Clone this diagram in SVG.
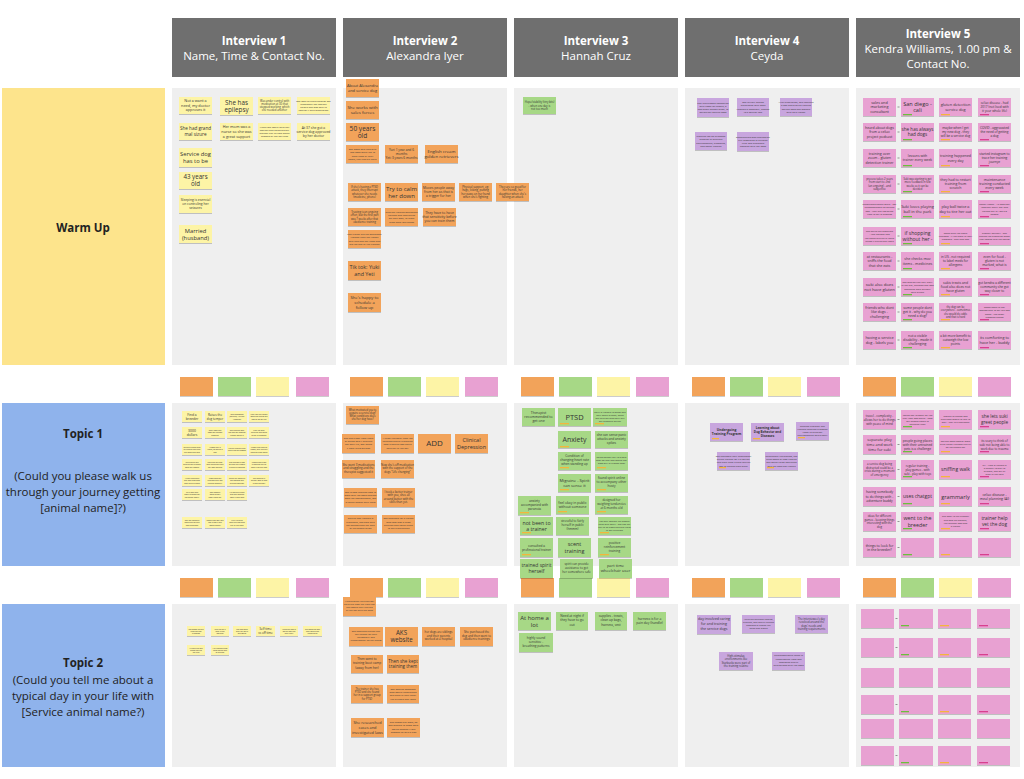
<svg xmlns="http://www.w3.org/2000/svg" width="1024" height="779" viewBox="0 0 1024 779">
<defs>
<filter id="sh" x="-10%" y="-10%" width="120%" height="140%"><feDropShadow dx="0" dy="0.8" stdDeviation="0.6" flood-color="#000" flood-opacity="0.25"/></filter>
<style>
text{font-family:"Open Sans","Liberation Sans",sans-serif;fill:#333;text-anchor:middle}
.hd{fill:#6f6f6f}
.ht{fill:#fff;font-size:11.5px}
.pn{fill:#efefef}
.rl{font-size:11.5px;fill:#222}
.Y{fill:#fdf4a6;filter:url(#sh)}
.O{fill:#f2a35a;filter:url(#sh)}
.G{fill:#a7d886;filter:url(#sh)}
.P{fill:#e8a1d2;filter:url(#sh)}
.V{fill:#c8a6de;filter:url(#sh)}
.tg{fill:#6cbf3d}.to{fill:#f3b53d}.tm{fill:#d8408f}
.dash{stroke:#555;stroke-width:0.6}
</style>
</defs>
<rect width="1024" height="779" fill="#fff"/>

<!-- headers -->
<g id="h1"><rect class="hd" x="172" y="18" width="164" height="59"/><text class="ht" x="254" y="45"><tspan font-weight="bold">Interview 1</tspan><tspan x="254" dy="15">Name, Time &amp; Contact No.</tspan></text></g>
<g id="h2"><rect class="hd" x="343" y="18" width="164" height="59"/><text class="ht" x="425" y="45"><tspan font-weight="bold">Interview 2</tspan><tspan x="425" dy="15">Alexandra Iyer</tspan></text></g>
<g id="h3"><rect class="hd" x="514" y="18" width="164" height="59"/><text class="ht" x="596" y="45"><tspan font-weight="bold">Interview 3</tspan><tspan x="596" dy="15">Hannah Cruz</tspan></text></g>
<g id="h4"><rect class="hd" x="685" y="18" width="164" height="59"/><text class="ht" x="767" y="45"><tspan font-weight="bold">Interview 4</tspan><tspan x="767" dy="15">Ceyda</tspan></text></g>
<g id="h5"><rect class="hd" x="856" y="18" width="164" height="59"/><text class="ht" x="938" y="38"><tspan font-weight="bold">Interview 5</tspan><tspan x="938" dy="15">Kendra Williams, 1.00 pm &amp;</tspan><tspan x="938" dy="15">Contact No.</tspan></text></g>

<!-- row labels -->
<g id="r-warmup"><rect x="2" y="88" width="163" height="277" fill="#fde48c"/><text class="rl" x="83" y="232" font-weight="bold" font-size="12.5">Warm Up</text></g>
<g id="r-topic1"><rect x="2" y="403" width="163" height="163" fill="#8fb3ec"/><text class="rl" x="83" y="438"><tspan font-weight="bold">Topic 1</tspan><tspan x="83" dy="42">(Could you please walk us</tspan><tspan x="83" dy="16">through your journey getting</tspan><tspan x="83" dy="16">[animal name]?)</tspan></text></g>
<g id="r-topic2"><rect x="2" y="604" width="163" height="163" fill="#8fb3ec"/><text class="rl" x="83" y="667"><tspan font-weight="bold">Topic 2</tspan><tspan x="83" dy="17">(Could you tell me about a</tspan><tspan x="83" dy="16">typical day in your life with</tspan><tspan x="83" dy="16">[Service animal name?)</tspan></text></g>

<!-- panels -->
<g id="panels">
<rect class="pn" x="172" y="88" width="164" height="277"/><rect class="pn" x="343" y="88" width="164" height="277"/><rect class="pn" x="514" y="88" width="164" height="277"/><rect class="pn" x="685" y="88" width="164" height="277"/><rect class="pn" x="856" y="88" width="164" height="277"/>
<rect class="pn" x="172" y="403" width="164" height="163"/><rect class="pn" x="343" y="403" width="164" height="163"/><rect class="pn" x="514" y="403" width="164" height="163"/><rect class="pn" x="685" y="403" width="164" height="163"/><rect class="pn" x="856" y="403" width="164" height="163"/>
<rect class="pn" x="172" y="604" width="164" height="163"/><rect class="pn" x="343" y="604" width="164" height="163"/><rect class="pn" x="514" y="604" width="164" height="163"/><rect class="pn" x="685" y="604" width="164" height="163"/><rect class="pn" x="856" y="604" width="164" height="163"/>
</g>

<!-- swatches -->
<g id="swatches1">
<rect class="O" x="180" y="377" width="33" height="19"/><rect class="G" x="218" y="377" width="33" height="19"/><rect class="Y" x="256" y="377" width="33" height="19"/><rect class="P" x="296" y="377" width="33" height="19"/>
<rect class="O" x="350" y="377" width="33" height="19"/><rect class="G" x="388" y="377" width="33" height="19"/><rect class="Y" x="426" y="377" width="33" height="19"/><rect class="P" x="465" y="377" width="33" height="19"/>
<rect class="O" x="521" y="377" width="33" height="19"/><rect class="G" x="559" y="377" width="33" height="19"/><rect class="Y" x="597" y="377" width="33" height="19"/><rect class="P" x="636" y="377" width="33" height="19"/>
<rect class="O" x="692" y="377" width="33" height="19"/><rect class="G" x="730" y="377" width="33" height="19"/><rect class="Y" x="768" y="377" width="33" height="19"/><rect class="P" x="807" y="377" width="33" height="19"/>
<rect class="O" x="863" y="377" width="33" height="19"/><rect class="G" x="901" y="377" width="33" height="19"/><rect class="Y" x="939" y="377" width="33" height="19"/><rect class="P" x="978" y="377" width="33" height="19"/>
</g>
<g id="swatches2">
<rect class="O" x="180" y="578" width="33" height="19"/><rect class="G" x="218" y="578" width="33" height="19"/><rect class="Y" x="256" y="578" width="33" height="19"/><rect class="P" x="296" y="578" width="33" height="19"/>
<rect class="O" x="350" y="578" width="33" height="19"/><rect class="G" x="388" y="578" width="33" height="19"/><rect class="Y" x="426" y="578" width="33" height="19"/><rect class="P" x="465" y="578" width="33" height="19"/>
<rect class="O" x="521" y="578" width="33" height="19"/><rect class="G" x="559" y="578" width="33" height="19"/><rect class="Y" x="597" y="578" width="33" height="19"/><rect class="P" x="636" y="578" width="33" height="19"/>
<rect class="O" x="692" y="578" width="33" height="19"/><rect class="G" x="730" y="578" width="33" height="19"/><rect class="Y" x="768" y="578" width="33" height="19"/><rect class="P" x="807" y="578" width="33" height="19"/>
<rect class="O" x="863" y="578" width="33" height="19"/><rect class="G" x="901" y="578" width="33" height="19"/><rect class="Y" x="939" y="578" width="33" height="19"/><rect class="P" x="978" y="578" width="33" height="19"/>
</g>

<!-- Interview 1 Warm Up -->
<g id="i1w1"><rect class="Y" x="179" y="97" width="33" height="17"/><text font-size="3.8" x="195.5" y="102.3">Not a want a<tspan x="195.5" dy="4.5">need, my doctor</tspan><tspan x="195.5" dy="4.5">approves it</tspan></text></g>
<g id="i1w2"><rect class="Y" x="220" y="97" width="33" height="18"/><text font-size="6.3" x="236.5" y="104.8">She has<tspan x="236.5" dy="7.3">epilepsy</tspan></text></g>
<g id="i1w3"><rect class="Y" x="258" y="97" width="33" height="17"/><text font-size="2.7" x="274.5" y="101.5">Was under control with<tspan x="274.5" dy="3.3">medication at 30 that</tspan><tspan x="274.5" dy="3.3">stopped working, which</tspan><tspan x="274.5" dy="3.3">she needed another</tspan></text></g>
<g id="i1w4"><rect class="Y" x="297" y="97" width="33" height="17"/><text font-size="2.5" x="313.5" y="101.5">She was terrified because she<tspan x="313.5" dy="3.2">remember her mother</tspan><tspan x="313.5" dy="3.2">before she was able to</tspan><tspan x="313.5" dy="3.2">control it with medication</tspan></text></g>
<g id="i1w5"><rect class="Y" x="179" y="123" width="33" height="17"/><text font-size="4.6" x="195.5" y="130.2">She had grand<tspan x="195.5" dy="5.6">mal sizure</tspan></text></g>
<g id="i1w6"><rect class="Y" x="220" y="123" width="33" height="17"/><text font-size="3.8" x="236.5" y="128.1">Her mom was a<tspan x="236.5" dy="4.7">nurse so she was</tspan><tspan x="236.5" dy="4.7">a great support</tspan></text></g>
<g id="i1w7"><rect class="Y" x="258" y="123" width="33" height="17"/><text font-size="2.5" x="274.5" y="127.5">When she was a child her<tspan x="274.5" dy="3.2">mother and gathered out</tspan><tspan x="274.5" dy="3.2">prevent her thyroid which</tspan><tspan x="274.5" dy="3.2">allowed all her seizures</tspan></text></g>
<g id="i1w8"><rect class="Y" x="297" y="123" width="33" height="17"/><text font-size="3.4" x="313.5" y="128.5">At 37 she got a<tspan x="313.5" dy="4.2">service dog approved</tspan><tspan x="313.5" dy="4.2">by her doctor</tspan></text></g>
<g id="i1w9"><rect class="Y" x="179" y="148" width="33" height="19"/><text font-size="5.8" x="195.5" y="156">Service dog<tspan x="195.5" dy="7">has to be</tspan></text></g>
<g id="i1w10"><rect class="Y" x="179" y="172" width="33" height="17"/><text font-size="6.2" x="195.5" y="179">43 years<tspan x="195.5" dy="7.3">old</tspan></text></g>
<g id="i1w11"><rect class="Y" x="179" y="195" width="33" height="18"/><text font-size="3.3" x="195.5" y="200.8">Sleeping is esencial<tspan x="195.5" dy="4.2">on controling her</tspan><tspan x="195.5" dy="4.2">seizures</tspan></text></g>
<g id="i1w12"><rect class="Y" x="179" y="225" width="33" height="18"/><text font-size="5.8" x="195.5" y="232.5">Married<tspan x="195.5" dy="7.2">(husband)</tspan></text></g>

<!-- Interview 2 Warm Up -->
<g id="i2w1"><rect class="O" x="346" y="79" width="33" height="18"/><text font-size="4" x="362.5" y="87">About Alexandra<tspan x="362.5" dy="5">and service dog</tspan></text></g>
<g id="i2w2"><rect class="O" x="346" y="101" width="33" height="18"/><text font-size="4.3" x="362.5" y="109">She works with<tspan x="362.5" dy="5.2">sales forces</tspan></text></g>
<g id="i2w3"><rect class="O" x="346" y="123" width="33" height="18"/><text font-size="6.6" x="362.5" y="130.5">50 years<tspan x="362.5" dy="7.8">old</tspan></text></g>
<g id="i2w4"><rect class="O" x="346" y="145" width="33" height="18"/><text font-size="2.5" x="362.5" y="150.3">She owns and lives with<tspan x="362.5" dy="3.1">two dogs she'd like to</tspan><tspan x="362.5" dy="3.1">have them at their</tspan><tspan x="362.5" dy="3.1">home, they can be there</tspan></text></g>
<g id="i2w5"><rect class="O" x="385" y="145" width="33" height="18"/><text font-size="3.2" x="401.5" y="151">Yuri 1 year and 6<tspan x="401.5" dy="4">months</tspan><tspan x="401.5" dy="4">Yeti 3 years 6 months</tspan></text></g>
<g id="i2w6"><rect class="O" x="425" y="145" width="33" height="18"/><text font-size="4.3" x="441.5" y="153">English cream<tspan x="441.5" dy="5.2">golden retrievers</tspan></text></g>
<g id="i2w7"><rect class="O" x="348" y="183" width="33" height="18"/><text font-size="2.7" x="364.5" y="187.9">If she's having a PTSD<tspan x="364.5" dy="3.4">attack, they interrupt</tspan><tspan x="364.5" dy="3.4">whatever she needs</tspan><tspan x="364.5" dy="3.4">(medicine, phone)</tspan></text></g>
<g id="i2w8"><rect class="O" x="385" y="183" width="33" height="18"/><text font-size="6" x="401.5" y="190.6">Try to calm<tspan x="401.5" dy="7">her down</tspan></text></g>
<g id="i2w9"><rect class="O" x="422" y="183" width="33" height="18"/><text font-size="3.4" x="438.5" y="189">Moves people away<tspan x="438.5" dy="4.2">from her as that is</tspan><tspan x="438.5" dy="4.2">a trigger for her</tspan></text></g>
<g id="i2w10"><rect class="O" x="459" y="183" width="33" height="18"/><text font-size="2.8" x="475.5" y="187.8">Physical support, eg:<tspan x="475.5" dy="3.5">hugs, licking, putting</tspan><tspan x="475.5" dy="3.5">her paws on her hand</tspan><tspan x="475.5" dy="3.5">when she's fighting</tspan></text></g>
<g id="i2w11"><rect class="O" x="496" y="183" width="33" height="18"/><text font-size="2.8" x="512.5" y="187.8">They are so good for<tspan x="512.5" dy="3.5">her friends, her</tspan><tspan x="512.5" dy="3.5">daughter when she's</tspan><tspan x="512.5" dy="3.5">having an attack</tspan></text></g>
<g id="i2w12"><rect class="O" x="348" y="208" width="33" height="18"/><text font-size="2.6" x="364.5" y="213">Trusting is an ongoing<tspan x="364.5" dy="3.3">effort, but the first part</tspan><tspan x="364.5" dy="3.3">was 7 weeks after that</tspan><tspan x="364.5" dy="3.3">obedience training</tspan></text></g>
<g id="i2w13"><rect class="O" x="385" y="208" width="33" height="18"/><text font-size="2.5" x="401.5" y="213">Trusting training/obedience<tspan x="401.5" dy="3.2">training and continuing</tspan><tspan x="401.5" dy="3.2">on their own, to teach</tspan><tspan x="401.5" dy="3.2">them what she needs</tspan></text></g>
<g id="i2w14"><rect class="O" x="423" y="208" width="33" height="18"/><text font-size="3.4" x="439.5" y="214">They have to have<tspan x="439.5" dy="4.2">that sensitivity before</tspan><tspan x="439.5" dy="4.2">you can train them</tspan></text></g>
<g id="i2w15"><rect class="O" x="348" y="230" width="33" height="18"/><text font-size="2.5" x="364.5" y="235.3">The trainer did the obedience<tspan x="364.5" dy="3.1">training then the trainer</tspan><tspan x="364.5" dy="3.1">and then she got them and</tspan><tspan x="364.5" dy="3.1">did the rest of the training</tspan></text></g>
<g id="i2w16"><rect class="O" x="348" y="261" width="33" height="19"/><text font-size="5.4" x="364.5" y="269">Tik tok: Yuki<tspan x="364.5" dy="6.8">and Yeti</tspan></text></g>
<g id="i2w17"><rect class="O" x="348" y="293" width="33" height="19"/><text font-size="4.1" x="364.5" y="299">She's happy to<tspan x="364.5" dy="5">schedule a</tspan><tspan x="364.5" dy="5">follow up</tspan></text></g>

<!-- Interview 3 Warm Up -->
<g id="i3w1"><rect class="G" x="523" y="97" width="33" height="17"/><text font-size="2.7" x="539.5" y="103.2">Hope/stability (tiny bits)<tspan x="539.5" dy="3.3">- when one day is</tspan><tspan x="539.5" dy="3.3">not too much</tspan></text></g>

<!-- Interview 4 Warm Up -->
<g id="i4w1"><rect class="V" x="697" y="98" width="32" height="19"/><text font-size="2.5" x="713" y="103.8">The interviewee connected<tspan x="713" dy="3.1">with Paws for People, a</tspan><tspan x="713" dy="3.1">non-profit organization, to</tspan><tspan x="713" dy="3.1">obtain her service dogs</tspan></text></g>
<g id="i4w2"><rect class="V" x="737" y="98" width="32" height="18"/><text font-size="2.5" x="753" y="103.3">She initially gained<tspan x="753" dy="3.1">experience with dogs</tspan><tspan x="753" dy="3.1">through a nonprofit, leading</tspan><tspan x="753" dy="3.1">to a service role</tspan></text></g>
<g id="i4w3"><rect class="V" x="780" y="98" width="32" height="18"/><text font-size="2.5" x="796" y="103.3">After graduation, she received<tspan x="796" dy="3.1">a dog and started training</tspan><tspan x="796" dy="3.1">service dogs she worked</tspan><tspan x="796" dy="3.1">with as a trainer</tspan></text></g>
<g id="i4w4"><rect class="V" x="695" y="132" width="32" height="18"/><text font-size="2.5" x="711" y="137.3">Training ran on exposing<tspan x="711" dy="3.1">puppies to different</tspan><tspan x="711" dy="3.1">environments, grooming,</tspan><tspan x="711" dy="3.1">and social training</tspan></text></g>
<g id="i4w5"><rect class="V" x="737" y="132" width="32" height="19"/><text font-size="2.5" x="753" y="137.8">Encountered was challenging<tspan x="753" dy="3.1">but rewarding in building</tspan><tspan x="753" dy="3.1">trust and sustained</tspan><tspan x="753" dy="3.1">bonding with the dogs</tspan></text></g>

<!-- Interview 5 Warm Up -->
<g id="i5w1"><rect class="P" x="863" y="98" width="33" height="18"/><text font-size="3.8" x="879.5" y="103.8">sales and<tspan x="879.5" dy="4.6">marketing</tspan><tspan x="879.5" dy="4.6">consultant</tspan></text></g>
<g id="i5w2"><rect class="P" x="901" y="98" width="33" height="18"/><text font-size="5.6" x="917.5" y="105.6">San diego -<tspan x="917.5" dy="6.8">cali</tspan></text></g>
<g id="i5w3"><rect class="P" x="939" y="98" width="33" height="18"/><text font-size="3.9" x="955.5" y="106">gluten detection<tspan x="955.5" dy="5">service dog</tspan></text></g>
<g id="i5w4"><rect class="P" x="978" y="98" width="33" height="18"/><text font-size="3.1" x="994.5" y="104.3">celiac disease - had<tspan x="994.5" dy="3.8">2017 (not lived with</tspan><tspan x="994.5" dy="3.8">it your whole life)</tspan></text></g>
<g id="i5w5"><rect class="P" x="863" y="123" width="33" height="18"/><text font-size="3.5" x="879.5" y="128.7">heard about dogs<tspan x="879.5" dy="4.5">from a celiac</tspan><tspan x="879.5" dy="4.5">project podcast</tspan></text></g>
<g id="i5w6"><rect class="P" x="901" y="123" width="33" height="18"/><text font-size="4.6" x="917.5" y="130.8">she has always<tspan x="917.5" dy="5.6">had dogs</tspan></text></g>
<g id="i5w7"><rect class="P" x="939" y="123" width="33" height="18"/><text font-size="3.2" x="955.5" y="128.9">maybe when I get<tspan x="955.5" dy="4.1">my new dog - they</tspan><tspan x="955.5" dy="4.1">will be a service dog</tspan></text></g>
<g id="i5w8"><rect class="P" x="978" y="123" width="33" height="18"/><text font-size="3.2" x="994.5" y="128.9">COVID - aggravated<tspan x="994.5" dy="4.1">the need of getting</tspan><tspan x="994.5" dy="4.1">a dog</tspan></text></g>
<g id="i5w9"><rect class="P" x="863" y="149" width="33" height="18"/><text font-size="3.6" x="879.5" y="154.7">training over<tspan x="879.5" dy="4.5">zoom - gluten</tspan><tspan x="879.5" dy="4.5">detection trainer</tspan></text></g>
<g id="i5w10"><rect class="P" x="901" y="149" width="33" height="18"/><text font-size="3.4" x="917.5" y="157">lessons with<tspan x="917.5" dy="4.3">trainer every week</tspan></text></g>
<g id="i5w11"><rect class="P" x="939" y="149" width="33" height="18"/><text font-size="3.6" x="955.5" y="157">training happened<tspan x="955.5" dy="4.5">every day</tspan></text></g>
<g id="i5w12"><rect class="P" x="978" y="149" width="33" height="18"/><text font-size="3.2" x="994.5" y="155">started instagram to<tspan x="994.5" dy="4">trace her training</tspan><tspan x="994.5" dy="4">journye</tspan></text></g>
<g id="i5w13"><rect class="P" x="863" y="175" width="33" height="18"/><text font-size="2.7" x="879.5" y="179.8">process takes 2 years<tspan x="879.5" dy="3.4">from start to end</tspan><tspan x="879.5" dy="3.4">(an ongoing) - and</tspan><tspan x="879.5" dy="3.4">subjective</tspan></text></g>
<g id="i5w14"><rect class="P" x="901" y="175" width="33" height="18"/><text font-size="2.6" x="917.5" y="179.8">Suki was starting to get<tspan x="917.5" dy="3.4">more feedback in few</tspan><tspan x="917.5" dy="3.4">weeks so it can be</tspan><tspan x="917.5" dy="3.4">decided</tspan></text></g>
<g id="i5w15"><rect class="P" x="939" y="175" width="33" height="18"/><text font-size="3.5" x="955.5" y="180.8">they had to restart<tspan x="955.5" dy="4.3">training from</tspan><tspan x="955.5" dy="4.3">scratch</tspan></text></g>
<g id="i5w16"><rect class="P" x="978" y="175" width="33" height="18"/><text font-size="3.5" x="994.5" y="180.8">maintenance<tspan x="994.5" dy="4.3">training conducted</tspan><tspan x="994.5" dy="4.3">every week</tspan></text></g>
<g id="i5w17"><rect class="P" x="863" y="200" width="33" height="18"/><text font-size="2.5" x="879.5" y="204.8">encouraged when she'd - not<tspan x="879.5" dy="3.4">recommended for service</tspan><tspan x="879.5" dy="3.4">dog - they are too much</tspan><tspan x="879.5" dy="3.4">time to get in process</tspan></text></g>
<g id="i5w18"><rect class="P" x="901" y="200" width="33" height="18"/><text font-size="4" x="917.5" y="208">Suki loves playing<tspan x="917.5" dy="5">ball in the park</tspan></text></g>
<g id="i5w19"><rect class="P" x="939" y="200" width="33" height="18"/><text font-size="3.8" x="955.5" y="208">play ball twice a<tspan x="955.5" dy="4.8">day to tire her out</tspan></text></g>
<g id="i5w20"><rect class="P" x="978" y="200" width="33" height="18"/><text font-size="2.5" x="994.5" y="204.8">happy fresh? - 16 dogs got<tspan x="994.5" dy="3.4">together every day and</tspan><tspan x="994.5" dy="3.4">trained pet in 180-6-8</tspan><tspan x="994.5" dy="3.4">people</tspan></text></g>
<g id="i5w21"><rect class="P" x="863" y="227" width="33" height="18"/><text font-size="2.5" x="879.5" y="231.8">she sniffs the groceries<tspan x="879.5" dy="3.4">- that nobody has</tspan><tspan x="879.5" dy="3.4">the paper/gluten in there</tspan><tspan x="879.5" dy="3.4">things if gluten are there</tspan></text></g>
<g id="i5w22"><rect class="P" x="901" y="227" width="33" height="18"/><text font-size="5" x="917.5" y="234.7">if shopping<tspan x="917.5" dy="6">without her -</tspan></text></g>
<g id="i5w23"><rect class="P" x="939" y="227" width="33" height="18"/><text font-size="2.5" x="955.5" y="233.6">make sure the dog's<tspan x="955.5" dy="3.4">freedom - if the store is tasty</tspan><tspan x="955.5" dy="3.4">crowded - and take dog</tspan></text></g>
<g id="i5w24"><rect class="P" x="978" y="227" width="33" height="18"/><text font-size="2.5" x="994.5" y="233.6">grocery delivery - she<tspan x="994.5" dy="3.4">checks the groceries when</tspan><tspan x="994.5" dy="3.4">that comes into the house</tspan></text></g>
<g id="i5w25"><rect class="P" x="863" y="252" width="33" height="18"/><text font-size="3.6" x="879.5" y="257.7">at restaurants -<tspan x="879.5" dy="4.5">sniffs the food</tspan><tspan x="879.5" dy="4.5">that she eats</tspan></text></g>
<g id="i5w26"><rect class="P" x="901" y="252" width="33" height="18"/><text font-size="3.6" x="917.5" y="260">she checks mov<tspan x="917.5" dy="4.5">items - medicines</tspan></text></g>
<g id="i5w27"><rect class="P" x="939" y="252" width="33" height="18"/><text font-size="3.2" x="955.5" y="258">in US - not required<tspan x="955.5" dy="4.1">to label meds for</tspan><tspan x="955.5" dy="4.1">allergens</tspan></text></g>
<g id="i5w28"><rect class="P" x="978" y="252" width="33" height="18"/><text font-size="3.3" x="994.5" y="258">even for food -<tspan x="994.5" dy="4.1">gluten is not</tspan><tspan x="994.5" dy="4.1">marked, what is</tspan></text></g>
<g id="i5w29"><rect class="P" x="863" y="278" width="33" height="18"/><text font-size="4.2" x="879.5" y="286">suki also does<tspan x="879.5" dy="5.3">not have gluten</tspan></text></g>
<g id="i5w30"><rect class="P" x="901" y="278" width="33" height="18"/><text font-size="2.5" x="917.5" y="282.8">she was getting very early<tspan x="917.5" dy="3.4">in the day, because she was</tspan><tspan x="917.5" dy="3.4">spending days without</tspan><tspan x="917.5" dy="3.4">with gluten</tspan></text></g>
<g id="i5w31"><rect class="P" x="939" y="278" width="33" height="18"/><text font-size="3.4" x="955.5" y="284">sukis treats and<tspan x="955.5" dy="4.2">food also does not</tspan><tspan x="955.5" dy="4.2">have gluten</tspan></text></g>
<g id="i5w32"><rect class="P" x="978" y="278" width="33" height="18"/><text font-size="3.2" x="994.5" y="284">got kendra a different<tspan x="994.5" dy="4">community she got</tspan><tspan x="994.5" dy="4">way closer to</tspan></text></g>
<g id="i5w33"><rect class="P" x="863" y="303" width="33" height="18"/><text font-size="3.6" x="879.5" y="308.7">friends who dont<tspan x="879.5" dy="4.5">like dogs -</tspan><tspan x="879.5" dy="4.5">challenging</tspan></text></g>
<g id="i5w34"><rect class="P" x="901" y="303" width="33" height="18"/><text font-size="3.4" x="917.5" y="308.8">some people dont<tspan x="917.5" dy="4.3">get it - why do you</tspan><tspan x="917.5" dy="4.3">need a dog?</tspan></text></g>
<g id="i5w35"><rect class="P" x="939" y="303" width="33" height="18"/><text font-size="2.6" x="955.5" y="307.9">the dog can be<tspan x="955.5" dy="3.4">everywhere - sometimes</tspan><tspan x="955.5" dy="3.4">she would do odds</tspan><tspan x="955.5" dy="3.4">and that is hard</tspan></text></g>
<g id="i5w36"><rect class="P" x="978" y="303" width="33" height="18"/><text font-size="2.5" x="994.5" y="307.9">sometimes its not<tspan x="994.5" dy="3.4">appropriate to get the dog</tspan><tspan x="994.5" dy="3.4">along - like most</tspan><tspan x="994.5" dy="3.4">crowded places</tspan></text></g>
<g id="i5w37"><rect class="P" x="863" y="331" width="33" height="18"/><text font-size="3.8" x="879.5" y="339">having a service<tspan x="879.5" dy="4.8">dog - labels you</tspan></text></g>
<g id="i5w38"><rect class="P" x="901" y="331" width="33" height="18"/><text font-size="3.4" x="917.5" y="337">not a visible<tspan x="917.5" dy="4.2">disability - made it</tspan><tspan x="917.5" dy="4.2">challenging</tspan></text></g>
<g id="i5w39"><rect class="P" x="939" y="331" width="33" height="18"/><text font-size="3.2" x="955.5" y="337">a bit more benefit to<tspan x="955.5" dy="4.1">outweigh the low</tspan><tspan x="955.5" dy="4.1">points</tspan></text></g>
<g id="i5w40"><rect class="P" x="978" y="331" width="33" height="18"/><text font-size="3.8" x="994.5" y="339">its comforting to<tspan x="994.5" dy="4.8">have her - buddy</tspan></text></g>
<g id="i5w-tags">
<rect class="tg" x="903" y="114" width="9" height="1.3"/><rect class="to" x="941" y="114" width="9" height="1.3"/><rect class="tm" x="980" y="114" width="9" height="1.3"/>
<rect class="tg" x="903" y="139" width="9" height="1.3"/><rect class="to" x="941" y="139" width="9" height="1.3"/><rect class="tm" x="980" y="139" width="9" height="1.3"/>
<rect class="tg" x="903" y="165" width="9" height="1.3"/><rect class="to" x="941" y="165" width="9" height="1.3"/><rect class="tm" x="980" y="165" width="9" height="1.3"/>
<rect class="tg" x="903" y="191" width="9" height="1.3"/><rect class="to" x="941" y="191" width="9" height="1.3"/><rect class="tm" x="980" y="191" width="9" height="1.3"/>
<rect class="tg" x="903" y="216" width="9" height="1.3"/><rect class="to" x="941" y="216" width="9" height="1.3"/><rect class="tm" x="980" y="216" width="9" height="1.3"/>
<rect class="tg" x="903" y="243" width="9" height="1.3"/><rect class="to" x="941" y="243" width="9" height="1.3"/><rect class="tm" x="980" y="243" width="9" height="1.3"/>
<rect class="tg" x="903" y="268" width="9" height="1.3"/><rect class="to" x="941" y="268" width="9" height="1.3"/><rect class="tm" x="980" y="268" width="9" height="1.3"/>
<rect class="tg" x="903" y="294" width="9" height="1.3"/><rect class="to" x="941" y="294" width="9" height="1.3"/><rect class="tm" x="980" y="294" width="9" height="1.3"/>
<rect class="tg" x="903" y="319" width="9" height="1.3"/><rect class="to" x="941" y="319" width="9" height="1.3"/><rect class="tm" x="980" y="319" width="9" height="1.3"/>
<rect class="tg" x="903" y="347" width="9" height="1.3"/><rect class="to" x="941" y="347" width="9" height="1.3"/><rect class="tm" x="980" y="347" width="9" height="1.3"/>
</g>

<!-- Interview 1 Topic 1 -->
<g id="i1t1"><rect class="Y" x="182" y="411" width="20" height="11"/><text font-size="3.4" x="192" y="415.5">Find a<tspan x="192" dy="4">breeder</tspan></text></g>
<g id="i1t2"><rect class="Y" x="205" y="411" width="20" height="11"/><text font-size="3" x="215" y="415.5">Raises the<tspan x="215" dy="4">dog temper</tspan></text></g>
<g id="i1t3"><rect class="Y" x="227" y="411" width="20" height="11"/><text font-size="2" x="237" y="414.7">She contacted<tspan x="237" dy="2.4">(Service) Anxiety</tspan><tspan x="237" dy="2.4">Academy</tspan></text></g>
<g id="i1t4"><rect class="Y" x="249" y="411" width="20" height="11"/><text font-size="1.9" x="259" y="414.7">They ask her about<tspan x="259" dy="2.4">what she needs the</tspan><tspan x="259" dy="2.4">dog to do for her</tspan></text></g>
<g id="i1t5"><rect class="Y" x="182" y="427" width="20" height="11"/><text font-size="3.4" x="192" y="431.5">3000<tspan x="192" dy="4">dollars</tspan></text></g>
<g id="i1t6"><rect class="Y" x="205" y="427" width="20" height="11"/><text font-size="2" x="215" y="430.7">They take the<tspan x="215" dy="2.4">dogs for certain</tspan><tspan x="215" dy="2.4">amount</tspan></text></g>
<g id="i1t7"><rect class="Y" x="227" y="427" width="20" height="11"/><text font-size="1.9" x="237" y="430.7">She trained with<tspan x="237" dy="2.4">the dog for months</tspan><tspan x="237" dy="2.4">before taking it</tspan></text></g>
<g id="i1t8"><rect class="Y" x="249" y="427" width="20" height="11"/><text font-size="1.9" x="259" y="430.7">They go over<tspan x="259" dy="2.4">seizures and what</tspan><tspan x="259" dy="2.4">to do in between</tspan></text></g>
<g id="i1t9"><rect class="Y" x="182" y="444" width="20" height="11"/><text font-size="1.9" x="192" y="447.7">Service breeds that<tspan x="192" dy="2.4">are bigger can help</tspan><tspan x="192" dy="2.4">her when she falls</tspan></text></g>
<g id="i1t10"><rect class="Y" x="205" y="444" width="20" height="11"/><text font-size="2" x="215" y="447.7">It took her 2<tspan x="215" dy="2.4">years, to figure it</tspan><tspan x="215" dy="2.4">out</tspan></text></g>
<g id="i1t11"><rect class="Y" x="227" y="444" width="20" height="11"/><text font-size="2" x="237" y="448.5">Which breed? They<tspan x="237" dy="2.4">had a lot to choose</tspan></text></g>
<g id="i1t12"><rect class="Y" x="249" y="444" width="20" height="11"/><text font-size="1.9" x="259" y="447.7">It took him time to<tspan x="259" dy="2.4">adapt, they are still</tspan><tspan x="259" dy="2.4">learning each other</tspan></text></g>
<g id="i1t13"><rect class="Y" x="182" y="459" width="20" height="11"/><text font-size="1.9" x="192" y="462.7">The part of the<tspan x="192" dy="2.4">training the breeder</tspan><tspan x="192" dy="2.4">does per month</tspan></text></g>
<g id="i1t14"><rect class="Y" x="205" y="459" width="20" height="11"/><text font-size="1.9" x="215" y="462.7">She paid the dog<tspan x="215" dy="2.4">with insurance and</tspan><tspan x="215" dy="2.4">her own savings</tspan></text></g>
<g id="i1t15"><rect class="Y" x="227" y="459" width="20" height="11"/><text font-size="1.9" x="237" y="462.7">She needed a dog<tspan x="237" dy="2.4">to alert her before</tspan><tspan x="237" dy="2.4">a seizure happens</tspan></text></g>
<g id="i1t16"><rect class="Y" x="249" y="459" width="20" height="11"/><text font-size="1.9" x="259" y="462.7">People were not<tspan x="259" dy="2.4">expecting her to</tspan><tspan x="259" dy="2.4">have a service dog</tspan></text></g>
<g id="i1t17"><rect class="Y" x="182" y="475" width="20" height="11"/><text font-size="1.9" x="192" y="478.7">At the beginning<tspan x="192" dy="2.4">she had problems</tspan><tspan x="192" dy="2.4">with public places</tspan></text></g>
<g id="i1t18"><rect class="Y" x="205" y="475" width="20" height="11"/><text font-size="1.9" x="215" y="478.7">Most from the<tspan x="215" dy="2.4">breeders are not</tspan><tspan x="215" dy="2.4">trained properly</tspan></text></g>
<g id="i1t19"><rect class="Y" x="227" y="475" width="20" height="11"/><text font-size="1.9" x="237" y="478.7">There are some of<tspan x="237" dy="2.4">the options she</tspan><tspan x="237" dy="2.4">did not consider</tspan></text></g>
<g id="i1t20"><rect class="Y" x="249" y="475" width="20" height="11"/><text font-size="1.9" x="259" y="478.7">She went to a<tspan x="259" dy="2.4">trainer who is also</tspan><tspan x="259" dy="2.4">a dog breeder</tspan></text></g>
<g id="i1t21"><rect class="Y" x="182" y="489" width="20" height="11"/><text font-size="1.9" x="192" y="492.7">It's a long and<tspan x="192" dy="2.4">costly process for</tspan><tspan x="192" dy="2.4">the whole family</tspan></text></g>
<g id="i1t22"><rect class="Y" x="205" y="489" width="20" height="11"/><text font-size="1.9" x="215" y="492.7">Dog doesn't<tspan x="215" dy="2.4">want to stay</tspan><tspan x="215" dy="2.4">away from her</tspan></text></g>
<g id="i1t23"><rect class="Y" x="227" y="489" width="20" height="11"/><text font-size="1.9" x="237" y="492.7">He got the breed<tspan x="237" dy="2.4">that she wanted</tspan><tspan x="237" dy="2.4">after a long wait</tspan></text></g>
<g id="i1t24"><rect class="Y" x="182" y="517" width="20" height="11"/><text font-size="1.9" x="192" y="520.7">She did research<tspan x="192" dy="2.4">about the service</tspan><tspan x="192" dy="2.4">dog programs</tspan></text></g>
<g id="i1t25"><rect class="Y" x="205" y="517" width="20" height="11"/><text font-size="1.9" x="215" y="520.7">People ask why she<tspan x="215" dy="2.4">has a dog if she</tspan><tspan x="215" dy="2.4">looks healthy</tspan></text></g>
<g id="i1t26"><rect class="Y" x="227" y="517" width="20" height="11"/><text font-size="1.9" x="237" y="520.7">It's a relief to<tspan x="237" dy="2.4">have the dog with</tspan><tspan x="237" dy="2.4">her all the time</tspan></text></g>

<!-- Interview 2 Topic 1 -->
<g id="i2t1"><rect class="O" x="346" y="406" width="33" height="18"/><text font-size="2.6" x="362.5" y="410.5">What motivated you to<tspan x="362.5" dy="3.3">acquire a service dog?</tspan><tspan x="362.5" dy="3.3">What conditions does</tspan><tspan x="362.5" dy="3.3">she/her dog have?</tspan></text></g>
<g id="i2t2"><rect class="O" x="342" y="434" width="33" height="19"/><text font-size="2.5" x="358.5" y="438.8">She had PTSD from years<tspan x="358.5" dy="3.3">of abuse and it affected</tspan><tspan x="358.5" dy="3.3">her daily life, she found</tspan><tspan x="358.5" dy="3.3">it hard to go outside</tspan></text></g>
<g id="i2t3"><rect class="O" x="381" y="434" width="33" height="19"/><text font-size="2.5" x="397.5" y="438.8">A PTSD therapist from the<tspan x="397.5" dy="3.3">veterans center explained</tspan><tspan x="397.5" dy="3.3">how a service dog could</tspan><tspan x="397.5" dy="3.3">help her in the day</tspan></text></g>
<g id="i2t4"><rect class="O" x="418" y="434" width="33" height="19"/><text font-size="8" x="434.5" y="446.3">ADD</text></g>
<g id="i2t5"><rect class="O" x="455" y="434" width="33" height="19"/><text font-size="5.5" x="471.5" y="442">Clinical<tspan x="471.5" dy="6.8">Depression</tspan></text></g>
<g id="i2t6"><rect class="O" x="342" y="460" width="33" height="18"/><text font-size="2.9" x="358.5" y="465.5">She went 3 medications<tspan x="358.5" dy="3.7">and struggling and the</tspan><tspan x="358.5" dy="3.7">therapist suggested it</tspan></text></g>
<g id="i2t7"><rect class="O" x="381" y="460" width="33" height="18"/><text font-size="2.8" x="397.5" y="465.5">Now she's off medication<tspan x="397.5" dy="3.7">with the support of the</tspan><tspan x="397.5" dy="3.7">dogs "Life changing"</tspan></text></g>
<g id="i2t8"><rect class="O" x="344" y="488" width="33" height="19"/><text font-size="2.5" x="360.5" y="492.8">She is now learning how to<tspan x="360.5" dy="3.3">work with the dogs and she</tspan><tspan x="360.5" dy="3.3">sees the improvement, she</tspan><tspan x="360.5" dy="3.3">is much calmer with them</tspan></text></g>
<g id="i2t9"><rect class="O" x="382" y="488" width="33" height="19"/><text font-size="2.8" x="398.5" y="492.5">I took a better trainer<tspan x="398.5" dy="3.6">with you, shes all</tspan><tspan x="398.5" dy="3.6">around better with the</tspan><tspan x="398.5" dy="3.6">skills than yet.</tspan></text></g>
<g id="i2t10"><rect class="O" x="344" y="515" width="33" height="18"/><text font-size="2.5" x="360.5" y="519.3">Service dog training is<tspan x="360.5" dy="3.3">expensive, she paid with</tspan><tspan x="360.5" dy="3.3">her savings and the help</tspan><tspan x="360.5" dy="3.3">of the organization</tspan></text></g>
<g id="i2t11"><rect class="O" x="382" y="515" width="33" height="18"/><text font-size="2.5" x="398.5" y="519.3">She searched for a trainer<tspan x="398.5" dy="3.3">who was also a PTSD</tspan><tspan x="398.5" dy="3.3">survivor and could relate</tspan><tspan x="398.5" dy="3.3">to her experiences</tspan></text></g>

<!-- Interview 3 Topic 1 -->
<g id="i3t1"><rect class="G" x="522" y="408" width="33" height="18"/><text font-size="3.5" x="538.5" y="413.5">Therapist<tspan x="538.5" dy="4.4">recommended to</tspan><tspan x="538.5" dy="4.4">get one</tspan></text></g>
<g id="i3t2"><rect class="G" x="558" y="408" width="33" height="18"/><text font-size="7.5" x="574.5" y="419.8">PTSD</text></g>
<g id="i3t3"><rect class="G" x="593" y="408" width="34" height="18"/><text font-size="2.4" x="610" y="412.5">spirit is trained to sense and<tspan x="610" dy="3.2">alert panic attacks, when</tspan><tspan x="610" dy="3.2">she gets anxious spirit will</tspan><tspan x="610" dy="3.2">put pressure on her</tspan></text></g>
<g id="i3t4"><rect class="G" x="558" y="431" width="33" height="17"/><text font-size="7" x="574.5" y="441.8">Anxiety</text></g>
<g id="i3t5"><rect class="G" x="595" y="431" width="33" height="17"/><text font-size="3.2" x="611.5" y="435.8">she can sense panic<tspan x="611.5" dy="4.2">attacks and anxiety</tspan><tspan x="611.5" dy="4.2">spikes</tspan></text></g>
<g id="i3t6"><rect class="G" x="558" y="452" width="33" height="18"/><text font-size="3.2" x="574.5" y="457">Condition of<tspan x="574.5" dy="4.2">changing heart rate</tspan><tspan x="574.5" dy="4.2">when standing up</tspan></text></g>
<g id="i3t7"><rect class="G" x="595" y="452" width="33" height="18"/><text font-size="2.5" x="611.5" y="457.5">helps herself get to a safe<tspan x="611.5" dy="3.4">spot so that she would not</tspan><tspan x="611.5" dy="3.4">pass out in a weak spot</tspan></text></g>
<g id="i3t8"><rect class="G" x="558" y="474" width="33" height="18"/><text font-size="4.1" x="574.5" y="482">Migraine - Spirit<tspan x="574.5" dy="5.2">can sense it</tspan></text></g>
<g id="i3t9"><rect class="G" x="595" y="474" width="33" height="18"/><text font-size="3.2" x="611.5" y="479">found spirit online<tspan x="611.5" dy="4.2">to accompany other</tspan><tspan x="611.5" dy="4.2">hosty</tspan></text></g>
<g id="i3t10"><rect class="G" x="518" y="496" width="33" height="19"/><text font-size="3.2" x="534.5" y="501.5">anxiety<tspan x="534.5" dy="4.2">accompanied with</tspan><tspan x="534.5" dy="4.2">paranoia</tspan></text></g>
<g id="i3t11"><rect class="G" x="556" y="496" width="33" height="18"/><text font-size="3.4" x="572.5" y="504">feel okay in public<tspan x="572.5" dy="4.3">without someone</tspan></text></g>
<g id="i3t12"><rect class="G" x="595" y="496" width="33" height="18"/><text font-size="3" x="611.5" y="501">designed her<tspan x="611.5" dy="4">weighing tendencies</tspan><tspan x="611.5" dy="4">at 6 months old</tspan></text></g>
<g id="i3t13"><rect class="G" x="520" y="517" width="33" height="18"/><text font-size="5.2" x="536.5" y="524.6">not been to<tspan x="536.5" dy="6.3">a trainer</tspan></text></g>
<g id="i3t14"><rect class="G" x="556" y="517" width="33" height="18"/><text font-size="3" x="572.5" y="522">stressful to fairly<tspan x="572.5" dy="4">herself in public</tspan><tspan x="572.5" dy="4">(hmmm)</tspan></text></g>
<g id="i3t15"><rect class="G" x="598" y="517" width="33" height="18"/><text font-size="2.4" x="614.5" y="521.5">the only contact the people<tspan x="614.5" dy="3.2">have with Spirit - she can get</tspan><tspan x="614.5" dy="3.2">her to be good and stay calm</tspan><tspan x="614.5" dy="3.2">in any situation</tspan></text></g>
<g id="i3t16"><rect class="G" x="520" y="538" width="33" height="19"/><text font-size="3.2" x="536.5" y="546.5">consulted a<tspan x="536.5" dy="4.2">professional trainer</tspan></text></g>
<g id="i3t17"><rect class="G" x="558" y="538" width="33" height="19"/><text font-size="5.5" x="574.5" y="545.8">scent<tspan x="574.5" dy="6.8">training</tspan></text></g>
<g id="i3t18"><rect class="G" x="598" y="538" width="33" height="19"/><text font-size="3.2" x="614.5" y="543.5">positive<tspan x="614.5" dy="4.2">reinforcement</tspan><tspan x="614.5" dy="4.2">training</tspan></text></g>
<g id="i3t19"><rect class="G" x="520" y="559" width="33" height="19"/><text font-size="5" x="536.5" y="567.2">trained spirit<tspan x="536.5" dy="6.2">herself</tspan></text></g>
<g id="i3t20"><rect class="G" x="560" y="559" width="33" height="19"/><text font-size="3" x="576.5" y="564.5">spirit can provide<tspan x="576.5" dy="4">assistance to get</tspan><tspan x="576.5" dy="4">her somewhere safe</tspan></text></g>
<g id="i3t21"><rect class="G" x="599" y="559" width="33" height="19"/><text font-size="4" x="615.5" y="567">part time<tspan x="615.5" dy="5.2">wheelchair user</tspan></text></g>
<g id="i3t-tags">
<rect class="to" x="560" y="423" width="9" height="1.3"/><rect class="to" x="595" y="423" width="9" height="1.3"/><rect class="to" x="560" y="446" width="9" height="1.3"/><rect class="to" x="560" y="467" width="9" height="1.3"/><rect class="to" x="597" y="467" width="9" height="1.3"/><rect class="to" x="560" y="489" width="9" height="1.3"/><rect class="to" x="597" y="489" width="9" height="1.3"/><rect class="to" x="520" y="512" width="9" height="1.3"/><rect class="to" x="558" y="511" width="9" height="1.3"/><rect class="to" x="597" y="511" width="9" height="1.3"/><rect class="to" x="522" y="532" width="9" height="1.3"/><rect class="to" x="600" y="532" width="9" height="1.3"/><rect class="to" x="522" y="554" width="9" height="1.3"/><rect class="to" x="600" y="554" width="9" height="1.3"/>
</g>

<!-- Interview 4 Topic 1 -->
<g id="i4t1"><rect class="V" x="710" y="423" width="33" height="18"/><text font-size="3.4" font-weight="bold" x="726.5" y="431">Undergoing<tspan x="726.5" dy="4.4">Training Program</tspan></text></g>
<g id="i4t2"><rect class="V" x="751" y="423" width="33" height="18"/><text font-size="3.1" font-weight="bold" x="767.5" y="428.5">Learning about<tspan x="767.5" dy="4.1">Dog Behavior and</tspan><tspan x="767.5" dy="4.1">Diseases</tspan></text></g>
<g id="i4t3"><rect class="V" x="796" y="422" width="33" height="18"/><text font-size="2.5" x="812.5" y="426.8">Training Puppies: The<tspan x="812.5" dy="3.2">training involved exposing</tspan><tspan x="812.5" dy="3.2">them to different</tspan><tspan x="812.5" dy="3.2">environments and stimuli</tspan></text></g>
<g id="i4t4"><rect class="V" x="717" y="452" width="33" height="18"/><text font-size="2.4" x="733.5" y="457">She increased their involvement<tspan x="733.5" dy="3.2">during training for it's routine.</tspan><tspan x="733.5" dy="3.2">This gave them a clear routine</tspan><tspan x="733.5" dy="3.2">way of helping each other</tspan></text></g>
<g id="i4t5"><rect class="V" x="765" y="452" width="33" height="18"/><text font-size="2.4" x="781.5" y="457">Throughout the process, she<tspan x="781.5" dy="3.2">grew aware of how training</tspan><tspan x="781.5" dy="3.2">and socialization continued</tspan><tspan x="781.5" dy="3.2">with the dogs she trained</tspan></text></g>
<g id="i4t-tags"><rect class="to" x="712" y="438" width="7" height="1.3"/><rect class="to" x="753" y="438" width="7" height="1.3"/><rect class="to" x="798" y="437" width="7" height="1.3"/><rect class="to" x="719" y="467" width="7" height="1.3"/><rect class="to" x="767" y="467" width="7" height="1.3"/></g>

<!-- Interview 5 Topic 1 -->
<g id="i5t1"><rect class="P" x="863" y="410" width="33" height="19"/><text font-size="3" x="879.5" y="416.5">travel - complexity -<tspan x="879.5" dy="4">allows her to do things</tspan><tspan x="879.5" dy="4">with peace of mind</tspan></text></g>
<g id="i5t2"><rect class="P" x="901" y="410" width="33" height="19"/><text font-size="2.5" x="917.5" y="415.5">taking her to work for the<tspan x="917.5" dy="3.3">first time was weird - how</tspan><tspan x="917.5" dy="3.3">will people going to</tspan><tspan x="917.5" dy="3.3">perceive this?</tspan></text></g>
<g id="i5t3"><rect class="P" x="939" y="410" width="33" height="19"/><text font-size="2.5" x="955.5" y="416.5">plough to places and<tspan x="955.5" dy="3.4">everyone wants to talk to</tspan><tspan x="955.5" dy="3.4">suki - that is a challenge</tspan></text></g>
<g id="i5t4"><rect class="P" x="978" y="410" width="33" height="19"/><text font-size="4.6" x="994.5" y="418.3">she lets suki<tspan x="994.5" dy="5.6">greet people</tspan></text></g>
<g id="i5t5"><rect class="P" x="863" y="435" width="33" height="19"/><text font-size="3.9" x="879.5" y="441">separate play<tspan x="879.5" dy="5">time and work</tspan><tspan x="879.5" dy="5">time for suki</tspan></text></g>
<g id="i5t6"><rect class="P" x="901" y="435" width="33" height="19"/><text font-size="3.2" x="917.5" y="441.5">people going places<tspan x="917.5" dy="4.2">with their untrained</tspan><tspan x="917.5" dy="4.2">pets is a challenge</tspan></text></g>
<g id="i5t7"><rect class="P" x="939" y="435" width="33" height="19"/><text font-size="2.5" x="955.5" y="441.5">service dogs cannot work<tspan x="955.5" dy="3.4">after being traumatized by</tspan><tspan x="955.5" dy="3.4">an untrained pet</tspan></text></g>
<g id="i5t8"><rect class="P" x="978" y="435" width="33" height="19"/><text font-size="3" x="994.5" y="441.5">its scary to think of<tspan x="994.5" dy="4">suki not being able to</tspan><tspan x="994.5" dy="4">work due to trauma</tspan></text></g>
<g id="i5t9"><rect class="P" x="863" y="460" width="33" height="19"/><text font-size="2.8" x="879.5" y="465.1">a service dog being<tspan x="879.5" dy="3.6">distracted could be a</tspan><tspan x="879.5" dy="3.6">crisis during a moment</tspan><tspan x="879.5" dy="3.6">of emergency</tspan></text></g>
<g id="i5t10"><rect class="P" x="901" y="460" width="33" height="19"/><text font-size="3" x="917.5" y="466.5">regular training -<tspan x="917.5" dy="4">play games - with</tspan><tspan x="917.5" dy="4">suki - play with toys</tspan></text></g>
<g id="i5t11"><rect class="P" x="939" y="460" width="33" height="19"/><text font-size="5" x="955.5" y="471.3">sniffing walk</text></g>
<g id="i5t12"><rect class="P" x="978" y="460" width="33" height="19"/><text font-size="2.5" x="994.5" y="465.5">bit - trips &amp; travels is<tspan x="994.5" dy="3.3">a benefit to suki to</tspan><tspan x="994.5" dy="3.3">explore, she will at</tspan><tspan x="994.5" dy="3.3">nine in the cold</tspan></text></g>
<g id="i5t13"><rect class="P" x="863" y="487" width="33" height="19"/><text font-size="3.3" x="879.5" y="493.4">having somebody<tspan x="879.5" dy="4.3">to do things with -</tspan><tspan x="879.5" dy="4.3">adventure buddy</tspan></text></g>
<g id="i5t14"><rect class="P" x="901" y="487" width="33" height="19"/><text font-size="4.9" x="917.5" y="498.2">uses chatgpt</text></g>
<g id="i5t15"><rect class="P" x="939" y="487" width="33" height="19"/><text font-size="5.6" x="955.5" y="498.5">grammarly</text></g>
<g id="i5t16"><rect class="P" x="978" y="487" width="33" height="19"/><text font-size="3.5" x="994.5" y="495.5">celiac disease -<tspan x="994.5" dy="4.5">meal planning (AI)</tspan></text></g>
<g id="i5t17"><rect class="P" x="863" y="512" width="33" height="19"/><text font-size="2.8" x="879.5" y="517.1">ideas for different<tspan x="879.5" dy="3.6">games - keeping things</tspan><tspan x="879.5" dy="3.6">interesting with the</tspan><tspan x="879.5" dy="3.6">dog</tspan></text></g>
<g id="i5t18"><rect class="P" x="901" y="512" width="33" height="19"/><text font-size="5.3" x="917.5" y="520.2">went to the<tspan x="917.5" dy="6.4">breeder</tspan></text></g>
<g id="i5t19"><rect class="P" x="939" y="512" width="33" height="19"/><text font-size="2.4" x="955.5" y="517.4">she went to the breeder<tspan x="955.5" dy="3.3">and saw the parents,</tspan><tspan x="955.5" dy="3.3">the breeder was also</tspan><tspan x="955.5" dy="3.3">a trainer</tspan></text></g>
<g id="i5t20"><rect class="P" x="978" y="512" width="33" height="19"/><text font-size="4.8" x="994.5" y="520.2">trainer help<tspan x="994.5" dy="6">vet the dog</tspan></text></g>
<g id="i5t21"><rect class="P" x="863" y="538" width="33" height="19"/><text font-size="3.5" x="879.5" y="546.5">things to look for<tspan x="879.5" dy="4.5">in the breeder?</tspan></text></g>
<g id="i5t22"><rect class="P" x="901" y="538" width="33" height="19"/></g>
<g id="i5t23"><rect class="P" x="939" y="538" width="33" height="19"/></g>
<g id="i5t24"><rect class="P" x="978" y="538" width="33" height="19"/></g>
<g id="i5t-tags">
<rect class="tg" x="903" y="426" width="9" height="1.3"/><rect class="to" x="941" y="426" width="9" height="1.3"/><rect class="tm" x="980" y="426" width="9" height="1.3"/>
<rect class="tg" x="903" y="451" width="9" height="1.3"/><rect class="to" x="941" y="451" width="9" height="1.3"/><rect class="tm" x="980" y="451" width="9" height="1.3"/>
<rect class="tg" x="903" y="476" width="9" height="1.3"/><rect class="to" x="941" y="476" width="9" height="1.3"/><rect class="tm" x="980" y="476" width="9" height="1.3"/>
<rect class="tg" x="903" y="503" width="9" height="1.3"/><rect class="to" x="941" y="503" width="9" height="1.3"/><rect class="tm" x="980" y="503" width="9" height="1.3"/>
<rect class="tg" x="903" y="528" width="9" height="1.3"/><rect class="to" x="941" y="528" width="9" height="1.3"/><rect class="tm" x="980" y="528" width="9" height="1.3"/>
<rect class="tg" x="903" y="554" width="9" height="1.3"/><rect class="to" x="941" y="554" width="9" height="1.3"/><rect class="tm" x="980" y="554" width="9" height="1.3"/>
</g>

<!-- Interview 1 Topic 2 -->
<g id="i1u1"><rect class="Y" x="187" y="626" width="18" height="10"/><text font-size="1.8" x="196" y="629.5">She wakes up and<tspan x="196" dy="2.2">gives the dog</tspan><tspan x="196" dy="2.2">breakfast</tspan></text></g>
<g id="i1u2"><rect class="Y" x="211" y="626" width="18" height="10"/><text font-size="1.8" x="220" y="629.5">They go for a<tspan x="220" dy="2.2">walk in the</tspan><tspan x="220" dy="2.2">morning</tspan></text></g>
<g id="i1u3"><rect class="Y" x="233" y="626" width="18" height="10"/><text font-size="1.8" x="242" y="629.5">The dog stays<tspan x="242" dy="2.2">with her while</tspan><tspan x="242" dy="2.2">she works</tspan></text></g>
<g id="i1u4"><rect class="Y" x="256" y="626" width="19" height="10"/><text font-size="3" x="265.5" y="630.2">Self time<tspan x="265.5" dy="3.6">vs off time</tspan></text></g>
<g id="i1u5"><rect class="Y" x="280" y="626" width="18" height="10"/><text font-size="1.8" x="289" y="629.5">When the vest is<tspan x="289" dy="2.2">off the dog can</tspan><tspan x="289" dy="2.2">play freely</tspan></text></g>
<g id="i1u6"><rect class="Y" x="303" y="626" width="19" height="10"/><text font-size="1.8" x="312.5" y="629.5">She takes the dog<tspan x="312.5" dy="2.2">everywhere she</tspan><tspan x="312.5" dy="2.2">needs to go</tspan></text></g>
<g id="i1u7"><rect class="Y" x="187" y="645" width="18" height="10"/><text font-size="1.8" x="196" y="648.5">At night the dog<tspan x="196" dy="2.2">sleeps next to</tspan><tspan x="196" dy="2.2">her bed</tspan></text></g>
<g id="i1u8"><rect class="Y" x="211" y="645" width="18" height="10"/><text font-size="1.8" x="220" y="648.5">Her husband also<tspan x="220" dy="2.2">helps taking care</tspan><tspan x="220" dy="2.2">of the dog</tspan></text></g>

<!-- Interview 2 Topic 2 -->
<g id="i2u1"><rect class="O" x="343" y="597" width="33" height="19"/><text font-size="2.4" x="359.5" y="601.5">Walkthrough the everyday<tspan x="359.5" dy="3.2">activities from the time that</tspan><tspan x="359.5" dy="3.2">she wakes until the end</tspan><tspan x="359.5" dy="3.2">of the day with the dogs</tspan></text></g>
<g id="i2u2"><rect class="O" x="349" y="627" width="34" height="19"/><text font-size="2.4" x="366" y="631.5">She searched breeds that<tspan x="366" dy="3.2">are trained for their</tspan><tspan x="366" dy="3.2">personality and</tspan><tspan x="366" dy="3.2">temperament for her needs</tspan></text></g>
<g id="i2u3"><rect class="O" x="385" y="627" width="33" height="19"/><text font-size="6.2" x="401.5" y="635">AKS<tspan x="401.5" dy="7.3">website</tspan></text></g>
<g id="i2u4"><rect class="O" x="422" y="627" width="33" height="19"/><text font-size="2.9" x="438.5" y="632.8">her dogs are siblings<tspan x="438.5" dy="3.8">and their parents</tspan><tspan x="438.5" dy="3.8">worked at a hospital</tspan></text></g>
<g id="i2u5"><rect class="O" x="460" y="627" width="33" height="19"/><text font-size="2.9" x="476.5" y="632.8">She purchased the<tspan x="476.5" dy="3.8">dog and then went to</tspan><tspan x="476.5" dy="3.8">obedience trainings</tspan></text></g>
<g id="i2u6"><rect class="O" x="351" y="655" width="32" height="18"/><text font-size="3.2" x="367" y="660">Then went to<tspan x="367" dy="4.3">training boot camp</tspan><tspan x="367" dy="4.3">(away from her)</tspan></text></g>
<g id="i2u7"><rect class="O" x="387" y="655" width="32" height="18"/><text font-size="4.5" x="403" y="662.9">Then she kept<tspan x="403" dy="5.5">training them</tspan></text></g>
<g id="i2u8"><rect class="O" x="351" y="685" width="32" height="18"/><text font-size="2.6" x="367" y="689.5">The trainer she has<tspan x="367" dy="3.4">PTSD and she found</tspan><tspan x="367" dy="3.4">her in a support group</tspan><tspan x="367" dy="3.4">for PTSD</tspan></text></g>
<g id="i2u9"><rect class="O" x="387" y="685" width="32" height="18"/><text font-size="2.5" x="403" y="689.5">She wanted someone<tspan x="403" dy="3.4">who would understand</tspan><tspan x="403" dy="3.4">and have in their heart</tspan><tspan x="403" dy="3.4">the struggle she faces</tspan></text></g>
<g id="i2u10"><rect class="O" x="351" y="718" width="33" height="19"/><text font-size="3.9" x="367.5" y="723.5">She researched<tspan x="367.5" dy="5">cases and</tspan><tspan x="367.5" dy="5">investigated laws</tspan></text></g>
<g id="i2u11"><rect class="O" x="387" y="718" width="33" height="19"/><text font-size="2.5" x="403.5" y="723">She knows her work, so<tspan x="403.5" dy="3.3">she wanted to know what</tspan><tspan x="403.5" dy="3.3">would happen if she</tspan><tspan x="403.5" dy="3.3">showed up with a dog</tspan></text></g>

<!-- Interview 3 Topic 2 -->
<g id="i3u1"><rect class="G" x="518" y="612" width="33" height="18"/><text font-size="6" x="534.5" y="619.5">At home a<tspan x="534.5" dy="7.2">lot</tspan></text></g>
<g id="i3u2"><rect class="G" x="556" y="612" width="32" height="18"/><text font-size="3.3" x="572" y="617">Need at night if<tspan x="572" dy="4.3">they have to go</tspan><tspan x="572" dy="4.3">out</tspan></text></g>
<g id="i3u3"><rect class="G" x="595" y="612" width="32" height="18"/><text font-size="3.2" x="611" y="617">supplies - treats,<tspan x="611" dy="4.3">clean up bags,</tspan><tspan x="611" dy="4.3">harness, vest</tspan></text></g>
<g id="i3u4"><rect class="G" x="633" y="612" width="33" height="18"/><text font-size="3.3" x="649.5" y="620">harness is for a<tspan x="649.5" dy="4.3">pain day (handle)</tspan></text></g>
<g id="i3u5"><rect class="G" x="519" y="633" width="34" height="19"/><text font-size="3.1" x="536" y="638.5">highly sound<tspan x="536" dy="4">sensitive -</tspan><tspan x="536" dy="4">breathing patterns</tspan></text></g>

<!-- Interview 4 Topic 2 -->
<g id="i4u1"><rect class="V" x="697" y="615" width="34" height="19"/><text font-size="3.6" x="714" y="620.3">day involved caring<tspan x="714" dy="4.6">for and training</tspan><tspan x="714" dy="4.6">the service dogs</tspan></text></g>
<g id="i4u2"><rect class="V" x="742" y="615" width="33" height="18"/><text font-size="2.4" x="758.5" y="619.8">Activities included feeding,<tspan x="758.5" dy="3.2">exercise, and public training</tspan><tspan x="758.5" dy="3.2">sessions at places like</tspan><tspan x="758.5" dy="3.2">cafes and stores</tspan></text></g>
<g id="i4u3"><rect class="V" x="795" y="615" width="33" height="18"/><text font-size="2.7" x="811.5" y="619.5">The interviewee's day<tspan x="811.5" dy="3.5">revolved around the</tspan><tspan x="811.5" dy="3.5">dogs' needs and</tspan><tspan x="811.5" dy="3.5">training requirements</tspan></text></g>
<g id="i4u4"><rect class="V" x="719" y="652" width="34" height="18"/><text font-size="2.7" x="736" y="656.5">High-stimulus<tspan x="736" dy="3.5">environments like</tspan><tspan x="736" dy="3.5">Starbucks were part of</tspan><tspan x="736" dy="3.5">the training routine</tspan></text></g>
<g id="i4u5"><rect class="V" x="772" y="652" width="33" height="18"/><text font-size="2.5" x="788.5" y="656.3">Challenges were faced in<tspan x="788.5" dy="3.3">transitioning from and</tspan><tspan x="788.5" dy="3.3">managing public</tspan><tspan x="788.5" dy="3.3">interactions with the dogs</tspan></text></g>

<!-- Interview 5 Topic 2 (blank grid) -->
<g id="i5u">
<rect class="P" x="861" y="609" width="33" height="19"/><rect class="P" x="899" y="609" width="34" height="19"/><rect class="P" x="938" y="609" width="33" height="19"/><rect class="P" x="977" y="609" width="33" height="19"/>
<rect class="P" x="861" y="638" width="33" height="19"/><rect class="P" x="899" y="638" width="34" height="19"/><rect class="P" x="938" y="638" width="33" height="19"/><rect class="P" x="977" y="638" width="33" height="19"/>
<rect class="P" x="861" y="668" width="33" height="19"/><rect class="P" x="899" y="668" width="34" height="19"/><rect class="P" x="938" y="668" width="33" height="19"/><rect class="P" x="977" y="668" width="33" height="19"/>
<rect class="P" x="861" y="695" width="33" height="19"/><rect class="P" x="899" y="695" width="34" height="19"/><rect class="P" x="938" y="695" width="33" height="19"/><rect class="P" x="977" y="695" width="33" height="19"/>
<rect class="P" x="861" y="719" width="33" height="19"/><rect class="P" x="899" y="719" width="34" height="19"/><rect class="P" x="938" y="719" width="33" height="19"/><rect class="P" x="977" y="719" width="33" height="19"/>
<rect class="P" x="861" y="746" width="33" height="19"/><rect class="P" x="899" y="746" width="34" height="19"/><rect class="P" x="938" y="746" width="33" height="19"/><rect class="P" x="977" y="746" width="33" height="19"/>
<rect class="tg" x="901" y="625" width="8" height="1.3"/><rect class="to" x="940" y="625" width="9" height="1.3"/><rect class="tm" x="979" y="625" width="9" height="1.3"/>
<rect class="tg" x="901" y="654" width="8" height="1.3"/><rect class="to" x="940" y="654" width="9" height="1.3"/><rect class="tm" x="979" y="654" width="9" height="1.3"/>
<rect class="tg" x="901" y="711" width="8" height="1.3"/><rect class="to" x="940" y="711" width="9" height="1.3"/><rect class="tm" x="979" y="711" width="9" height="1.3"/>
<rect class="tg" x="901" y="762" width="8" height="1.3"/><rect class="to" x="940" y="762" width="9" height="1.3"/><rect class="tm" x="979" y="762" width="9" height="1.3"/>
</g>

<!-- connectors (small dashes) -->
<g id="connectors">
<line class="dash" x1="897.5" y1="107" x2="899.5" y2="107"/><line class="dash" x1="897.5" y1="132" x2="899.5" y2="132"/><line class="dash" x1="897.5" y1="158" x2="899.5" y2="158"/><line class="dash" x1="897.5" y1="184" x2="899.5" y2="184"/><line class="dash" x1="897.5" y1="209" x2="899.5" y2="209"/><line class="dash" x1="897.5" y1="236" x2="899.5" y2="236"/><line class="dash" x1="897.5" y1="261" x2="899.5" y2="261"/><line class="dash" x1="897.5" y1="287" x2="899.5" y2="287"/><line class="dash" x1="897.5" y1="312" x2="899.5" y2="312"/><line class="dash" x1="897.5" y1="340" x2="899.5" y2="340"/>
<line class="dash" x1="897.5" y1="419.5" x2="899.5" y2="419.5"/><line class="dash" x1="897.5" y1="444.5" x2="899.5" y2="444.5"/><line class="dash" x1="897.5" y1="469.5" x2="899.5" y2="469.5"/><line class="dash" x1="897.5" y1="496.5" x2="899.5" y2="496.5"/><line class="dash" x1="897.5" y1="521.5" x2="899.5" y2="521.5"/><line class="dash" x1="897.5" y1="547.5" x2="899.5" y2="547.5"/>
<line class="dash" x1="895.5" y1="618.5" x2="897.5" y2="618.5"/><line class="dash" x1="895.5" y1="647.5" x2="897.5" y2="647.5"/><line class="dash" x1="895.5" y1="704.5" x2="897.5" y2="704.5"/><line class="dash" x1="895.5" y1="755.5" x2="897.5" y2="755.5"/>
</g>
</svg>
